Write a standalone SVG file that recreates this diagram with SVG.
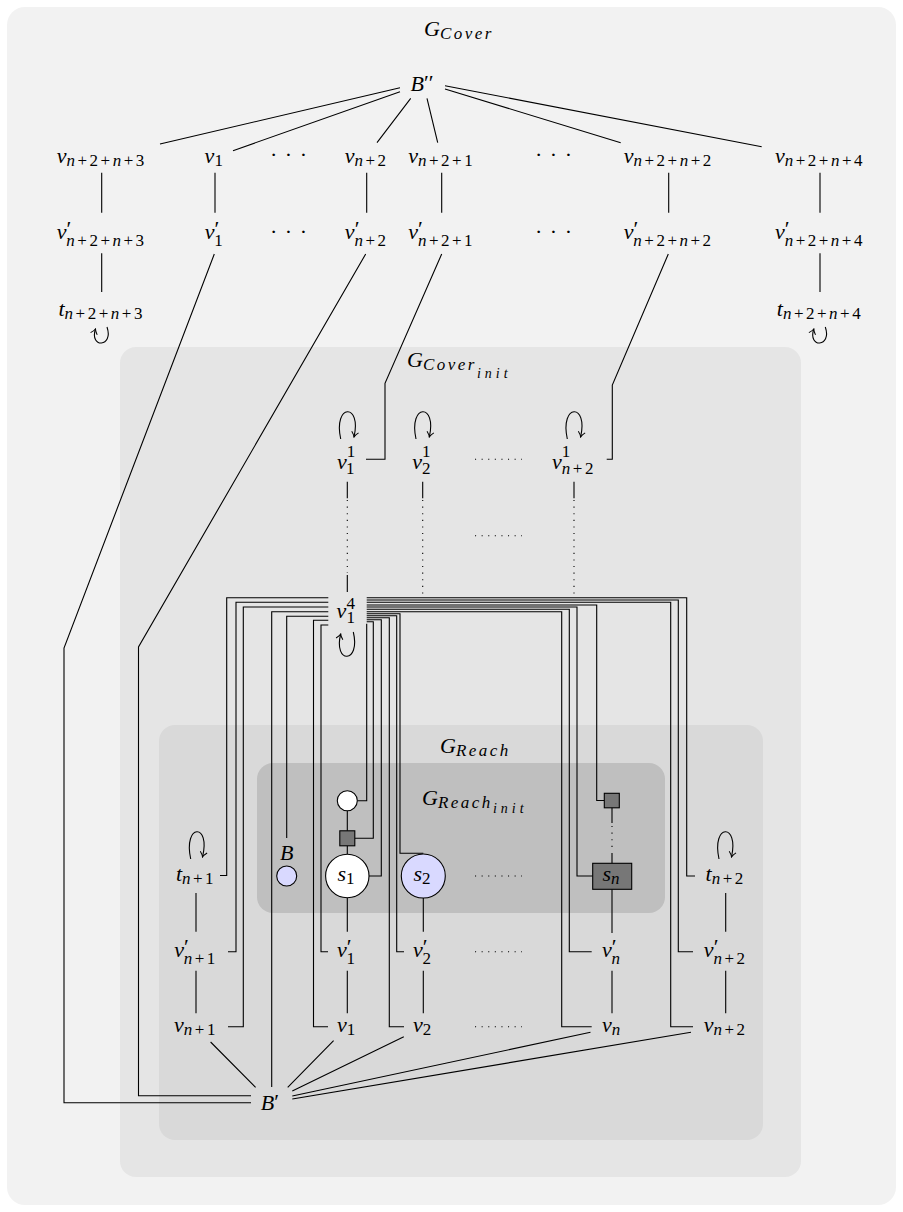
<svg xmlns="http://www.w3.org/2000/svg" width="903" height="1212" viewBox="0 0 903 1212" font-family="'Liberation Serif', 'Times New Roman', serif">
<style>
.tx{font-family:"Liberation Serif","Times New Roman",serif;font-size:22px;fill:#000}
.i{font-style:italic}
.sb{font-size:17px;letter-spacing:2.5px}
.ss{font-size:14px;letter-spacing:4px}
.pr{font-size:22px;font-style:normal}
.dt{letter-spacing:1px}
.e{fill:none;stroke:#000;stroke-width:1.1}
.d{fill:none;stroke:#000;stroke-width:1.1;stroke-dasharray:1.1 5.5}
.lp{fill:none;stroke:#000;stroke-width:1.1;marker-end:url(#ar)}
.sq{fill:#777;stroke:#000;stroke-width:1.1}
.wc{fill:#fff;stroke:#000;stroke-width:1.1}
.bc{fill:#d9d9ff;stroke:#000;stroke-width:1.1}
</style>
<defs>
<marker id="ar" viewBox="-6 -5 7 10" refX="0" refY="0" markerWidth="7" markerHeight="10" markerUnits="userSpaceOnUse" orient="auto">
<path d="M-5,-3.5 Q-2,-0.6 0,0 Q-2,0.6 -5,3.5" fill="none" stroke="#000" stroke-width="1"/>
</marker>
</defs>

<g id="clusters">
<rect x="7" y="7" width="889" height="1198" rx="18" fill="#f2f2f2"/>
<rect x="120" y="347" width="681" height="830" rx="16" fill="#e5e5e5"/>
<rect x="159" y="725" width="604" height="415" rx="16" fill="#d9d9d9"/>
<rect x="257" y="763" width="408" height="150" rx="16" fill="#bfbfbf"/>
<text class="tx i" x="424" y="36">G<tspan class="sb" dy="3">Cover</tspan></text>
<text class="tx i" x="407" y="367">G<tspan class="sb" dy="3">Cover</tspan><tspan class="ss" dy="8">init</tspan></text>
<text class="tx i" x="440" y="753">G<tspan class="sb" dy="3">Reach</tspan></text>
<text class="tx i" x="422" y="805">G<tspan class="sb" dy="3">Reach</tspan><tspan class="ss" dy="5">init</tspan></text>
</g>

<g id="connectors">
<path class="e" d="M400,87.7L160,144M400,91.7L233,150.7M410.7,98.3L377,142.7M427,98.3L437.7,142.7M445,89L620.7,142.7M445,85.7L761.7,146.7"/>
<path class="e" d="M101.7,172.7V212.7M215,172.7V212.7M366.7,172.7V212.7M441.7,172.7V212.7M668.7,172.7V212.7M820,172.7V212.7"/>
<path class="e" d="M101.7,253.3V292M820,253.3V292"/>
<path class="e" d="M214.3,254L64,648V1102.7H251"/>
<path class="e" d="M365.7,254L138.5,647V1095.7H251"/>
<path class="e" d="M441.7,254L385,383.3V459.3H366"/>
<path class="e" d="M668.3,254L612.3,385V459.3H606.7"/>
<path class="lp" d="M107,327C114,348 89,348 95.5,329"/>
<path class="lp" d="M825.3,327C832.3,348 807.3,348 813.8,329"/>
<path class="lp" d="M340.7,439C333,403 362,403 354,437"/>
<path class="lp" d="M416,439C408.3,403 437.3,403 429.3,437"/>
<path class="lp" d="M567.3,439C559.6,403 588.6,403 580.6,437"/>
<path class="lp" d="M353.3,632C361,664 333,664 340.7,634"/>
<path class="lp" d="M190.7,859C183,823 211,823 202.5,857"/>
<path class="lp" d="M719,859C711.3,823 739.3,823 731.5,857"/>
<path class="e" d="M347.3,481.7V498.3M347.3,575V592M422.7,481.7V498.3M574,481.7V498.3"/>
<path class="d" d="M347.3,500V573M422.7,500V595M574,500V595"/>
<path class="d" d="M475,459.3H522M475,535.7H522M475,876H522M475,951.7H522M475,1026.7H522"/>
<path class="e" d="M328.3,597.7H226.7V875.5H220"/>
<path class="e" d="M328.3,602.3H236V951.7H228"/>
<path class="e" d="M328.3,607H243.3V1026.7H228"/>
<path class="e" d="M328.3,611.7H271.7V1087"/>
<path class="e" d="M328.3,616.3H286.7V838"/>
<path class="e" d="M328.3,620.3H313.5V1026.7H328"/>
<path class="e" d="M328.3,625H321V951.7H328"/>
<path class="e" d="M366.7,597.7H686.7V876H695"/>
<path class="e" d="M366.7,600H678.3V951.7H693"/>
<path class="e" d="M366.7,602.3H670.7V1026.7H693"/>
<path class="e" d="M366.7,605H596.7V800.5H604.3"/>
<path class="e" d="M366.7,607H577V876H592.7"/>
<path class="e" d="M366.7,609.3H569.3V951.7H591.7"/>
<path class="e" d="M366.7,611.7H561.7V1026.7H591.7"/>
<path class="e" d="M366.7,613.7H400V853.3H423.3"/>
<path class="e" d="M366.7,615.7H396.7V951.7H404"/>
<path class="e" d="M366.7,617.7H389.3V1026.7H404"/>
<path class="e" d="M366.7,619.7H381.3V876H369"/>
<path class="e" d="M366.7,621.7H373.3V838.3H355"/>
<path class="e" d="M366.7,623.7V800.7H357.3"/>
<path class="e" d="M196,893V931.7M196,970.7V1013.3"/>
<path class="e" d="M347.3,810.7V830.8M347.3,845.8V854.3M347.3,897.7V931.7M347.3,970.7V1013.3"/>
<path class="e" d="M423.3,898V931.7M423.3,970.7V1013.3"/>
<path class="e" d="M612,807.8V823M612,853V863.3M612,889.3V933M612,970.7V1013.3"/>
<path class="d" d="M612,826V850"/>
<path class="e" d="M725.7,893V931.7M725.7,970.7V1013.3"/>
<path class="e" d="M210.6,1042L255.6,1087.3M333.6,1040.7L287.7,1087.3M403.8,1036.7L292.3,1091M590.5,1032.3L292.3,1096M691,1032.3L292.3,1099"/>
</g>

<g id="n-Bpp"><text class="tx i" x="422" y="90.5" text-anchor="middle">B<tspan class="pr" dy="-1">′′</tspan></text></g>

<g id="n-v-n2n3"><text class="tx" x="101.7" y="163" text-anchor="middle"><tspan class="i">v</tspan><tspan class="sb" dy="3"><tspan class="i">n</tspan>+2+<tspan class="i">n</tspan>+3</tspan></text></g>
<g id="n-v-1"><text class="tx" x="215" y="163" text-anchor="middle"><tspan class="i">v</tspan><tspan class="sb" dy="3">1</tspan></text></g>
<g id="n-dots-1"><text class="tx dt" x="289" y="162" text-anchor="middle">· · ·</text></g>
<g id="n-v-n2"><text class="tx" x="366.7" y="163" text-anchor="middle"><tspan class="i">v</tspan><tspan class="sb" dy="3"><tspan class="i">n</tspan>+2</tspan></text></g>
<g id="n-v-n21"><text class="tx" x="441.7" y="163" text-anchor="middle"><tspan class="i">v</tspan><tspan class="sb" dy="3"><tspan class="i">n</tspan>+2+1</tspan></text></g>
<g id="n-dots-2"><text class="tx dt" x="554" y="162" text-anchor="middle">· · ·</text></g>
<g id="n-v-n2n2"><text class="tx" x="668.7" y="163" text-anchor="middle"><tspan class="i">v</tspan><tspan class="sb" dy="3"><tspan class="i">n</tspan>+2+<tspan class="i">n</tspan>+2</tspan></text></g>
<g id="n-v-n2n4"><text class="tx" x="820" y="163" text-anchor="middle"><tspan class="i">v</tspan><tspan class="sb" dy="3"><tspan class="i">n</tspan>+2+<tspan class="i">n</tspan>+4</tspan></text></g>

<g id="n-vp-n2n3"><text class="tx" x="101.7" y="238.5" text-anchor="middle"><tspan class="i">v</tspan><tspan class="pr" dy="-3">′</tspan><tspan class="sb" dx="-5" dy="10"><tspan class="i">n</tspan>+2+<tspan class="i">n</tspan>+3</tspan></text></g>
<g id="n-vp-1"><text class="tx" x="215" y="238.5" text-anchor="middle"><tspan class="i">v</tspan><tspan class="pr" dy="-3">′</tspan><tspan class="sb" dx="-5" dy="10">1</tspan></text></g>
<g id="n-dots-3"><text class="tx dt" x="289" y="238.5" text-anchor="middle">· · ·</text></g>
<g id="n-vp-n2"><text class="tx" x="366.7" y="238.5" text-anchor="middle"><tspan class="i">v</tspan><tspan class="pr" dy="-3">′</tspan><tspan class="sb" dx="-5" dy="10"><tspan class="i">n</tspan>+2</tspan></text></g>
<g id="n-vp-n21"><text class="tx" x="441.7" y="238.5" text-anchor="middle"><tspan class="i">v</tspan><tspan class="pr" dy="-3">′</tspan><tspan class="sb" dx="-5" dy="10"><tspan class="i">n</tspan>+2+1</tspan></text></g>
<g id="n-dots-4"><text class="tx dt" x="554" y="238.5" text-anchor="middle">· · ·</text></g>
<g id="n-vp-n2n2"><text class="tx" x="668.7" y="238.5" text-anchor="middle"><tspan class="i">v</tspan><tspan class="pr" dy="-3">′</tspan><tspan class="sb" dx="-5" dy="10"><tspan class="i">n</tspan>+2+<tspan class="i">n</tspan>+2</tspan></text></g>
<g id="n-vp-n2n4"><text class="tx" x="820" y="238.5" text-anchor="middle"><tspan class="i">v</tspan><tspan class="pr" dy="-3">′</tspan><tspan class="sb" dx="-5" dy="10"><tspan class="i">n</tspan>+2+<tspan class="i">n</tspan>+4</tspan></text></g>

<g id="n-t-n2n3"><text class="tx" x="101.7" y="316" text-anchor="middle"><tspan class="i">t</tspan><tspan class="sb" dy="3"><tspan class="i">n</tspan>+2+<tspan class="i">n</tspan>+3</tspan></text></g>
<g id="n-t-n2n4"><text class="tx" x="820" y="316" text-anchor="middle"><tspan class="i">t</tspan><tspan class="sb" dy="3"><tspan class="i">n</tspan>+2+<tspan class="i">n</tspan>+4</tspan></text></g>

<g id="n-v11"><text class="tx" x="347" y="468.5" text-anchor="middle"><tspan class="i">v</tspan><tspan class="sb" dy="-12">1</tspan><tspan class="sb" dx="-11" dy="17">1</tspan></text></g>
<g id="n-v21"><text class="tx" x="422.7" y="468.5" text-anchor="middle"><tspan class="i">v</tspan><tspan class="sb" dy="-12">1</tspan><tspan class="sb" dx="-11" dy="17">2</tspan></text></g>
<g id="n-vn21"><text class="tx" x="574" y="468.5" text-anchor="middle"><tspan class="i">v</tspan><tspan class="sb" dy="-12">1</tspan><tspan class="sb" dx="-11" dy="17"><tspan class="i">n</tspan>+2</tspan></text></g>
<g id="n-v14"><text class="tx" x="347" y="618" text-anchor="middle"><tspan class="i">v</tspan><tspan class="sb" dy="-9">4</tspan><tspan class="sb" dx="-11" dy="14">1</tspan></text></g>

<g id="n-t-n1"><text class="tx" x="196" y="881" text-anchor="middle"><tspan class="i">t</tspan><tspan class="sb" dy="3"><tspan class="i">n</tspan>+1</tspan></text></g>
<g id="n-vp-n1"><text class="tx" x="196" y="956.5" text-anchor="middle"><tspan class="i">v</tspan><tspan class="pr" dy="-3">′</tspan><tspan class="sb" dx="-5" dy="10"><tspan class="i">n</tspan>+1</tspan></text></g>
<g id="n-v-n1"><text class="tx" x="196" y="1031.5" text-anchor="middle"><tspan class="i">v</tspan><tspan class="sb" dy="3"><tspan class="i">n</tspan>+1</tspan></text></g>

<g id="n-B"><text class="tx i" x="286.7" y="860" text-anchor="middle">B</text><circle class="bc" cx="286.7" cy="876" r="10"/></g>
<g id="n-c1"><circle class="wc" cx="347.3" cy="800.7" r="10"/></g>
<g id="n-q1"><rect class="sq" x="339.8" y="830.8" width="15" height="15"/></g>
<g id="n-s1"><circle class="wc" cx="347.3" cy="876" r="21.7"/><text class="tx" x="347.3" y="881" text-anchor="middle"><tspan class="i">s</tspan><tspan class="sb" dy="3">1</tspan></text></g>
<g id="n-s2"><circle class="bc" cx="423.3" cy="876" r="22"/><text class="tx" x="423.3" y="881" text-anchor="middle"><tspan class="i">s</tspan><tspan class="sb" dy="3">2</tspan></text></g>
<g id="n-qn"><rect class="sq" x="604.3" y="793.3" width="15" height="14.5"/></g>
<g id="n-sn"><rect class="sq" x="592.7" y="863.3" width="39" height="26"/><text class="tx" x="612.2" y="881" text-anchor="middle"><tspan class="i">s</tspan><tspan class="sb i" dy="3">n</tspan></text></g>
<g id="n-t-n2"><text class="tx" x="725.7" y="881" text-anchor="middle"><tspan class="i">t</tspan><tspan class="sb" dy="3"><tspan class="i">n</tspan>+2</tspan></text></g>

<g id="n-vp1"><text class="tx" x="347.3" y="956.5" text-anchor="middle"><tspan class="i">v</tspan><tspan class="pr" dy="-3">′</tspan><tspan class="sb" dx="-5" dy="10">1</tspan></text></g>
<g id="n-vp2"><text class="tx" x="423.3" y="956.5" text-anchor="middle"><tspan class="i">v</tspan><tspan class="pr" dy="-3">′</tspan><tspan class="sb" dx="-5" dy="10">2</tspan></text></g>
<g id="n-vpn"><text class="tx" x="612.3" y="956.5" text-anchor="middle"><tspan class="i">v</tspan><tspan class="pr" dy="-3">′</tspan><tspan class="sb i" dx="-5" dy="10">n</tspan></text></g>
<g id="n-vp-n2b"><text class="tx" x="725.7" y="956.5" text-anchor="middle"><tspan class="i">v</tspan><tspan class="pr" dy="-3">′</tspan><tspan class="sb" dx="-5" dy="10"><tspan class="i">n</tspan>+2</tspan></text></g>

<g id="n-v1"><text class="tx" x="347.3" y="1031.5" text-anchor="middle"><tspan class="i">v</tspan><tspan class="sb" dy="3">1</tspan></text></g>
<g id="n-v2"><text class="tx" x="423.3" y="1031.5" text-anchor="middle"><tspan class="i">v</tspan><tspan class="sb" dy="3">2</tspan></text></g>
<g id="n-vn"><text class="tx" x="612.3" y="1031.5" text-anchor="middle"><tspan class="i">v</tspan><tspan class="sb i" dy="3">n</tspan></text></g>
<g id="n-v-n2b"><text class="tx" x="725.7" y="1031.5" text-anchor="middle"><tspan class="i">v</tspan><tspan class="sb" dy="3"><tspan class="i">n</tspan>+2</tspan></text></g>

<g id="n-Bp"><text class="tx i" x="270" y="1110" text-anchor="middle">B<tspan class="pr" dy="-1">′</tspan></text></g>
</svg>
